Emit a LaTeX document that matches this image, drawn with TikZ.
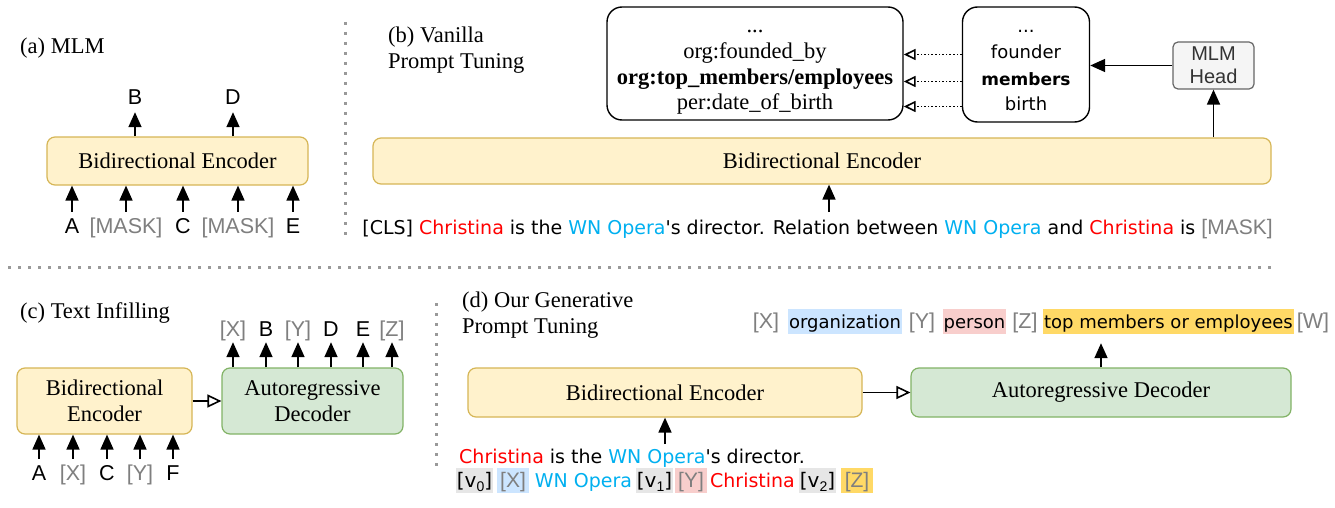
\documentclass[tikz,border=0pt]{standalone}
\usepackage{fontspec}
\setmainfont{Liberation Serif}
\newfontfamily\tokfont{Liberation Sans}
\newfontfamily\comicfont{DejaVu Sans}
\usetikzlibrary{arrows.meta,positioning}

\definecolor{encfill}{HTML}{FFF2CC}
\definecolor{encdraw}{HTML}{D6B656}
\definecolor{decfill}{HTML}{D5E8D4}
\definecolor{decdraw}{HTML}{82B366}
\definecolor{headfill}{HTML}{F5F5F5}
\definecolor{headdraw}{HTML}{666666}
\definecolor{headtext}{HTML}{333333}
\definecolor{tokgray}{HTML}{7F7F7F}
\definecolor{entred}{HTML}{FF0000}
\definecolor{entblue}{HTML}{00B0F0}
\definecolor{hlblue}{HTML}{CCE5FF}
\definecolor{hlred}{HTML}{F8CECC}
\definecolor{hlorange}{HTML}{FFD966}
\definecolor{hlgray}{HTML}{E6E6E6}
\definecolor{sepgray}{HTML}{999999}

\newcommand\vsub[1]{{\tokfont\fontsize{14}{14}\selectfont\raisebox{-4pt}{#1}}}

\tikzset{
  capt/.style={font=\fontsize{22.5}{26}\selectfont, anchor=west, align=left, inner sep=0pt},
  enc/.style={draw=encdraw, fill=encfill, line width=1.2pt, rounded corners=8pt,
    font=\fontsize{22.5}{26}\selectfont, align=center, inner sep=0pt},
  dec/.style={enc, draw=decdraw, fill=decfill},
  headbox/.style={draw=headdraw, fill=headfill, line width=1.2pt, rounded corners=5pt,
    font=\tokfont\fontsize{20}{23}\selectfont, text=headtext, align=center, inner sep=0pt},
  linebox/.style={draw, line width=1.4pt, rounded corners=15pt},
  tok/.style={font=\tokfont\fontsize{21.5}{24}\selectfont, inner sep=0pt, text height=15pt, text depth=0pt},
  comic/.style={font=\comicfont\fontsize{18}{22}\selectfont, inner sep=0pt},
  sent/.style={font=\comicfont\fontsize{19}{22}\selectfont, inner sep=0pt, anchor=base},
  hl/.style={comic, inner xsep=1pt, inner ysep=0pt, text height=19pt, text depth=6pt, anchor=base},
  hltok/.style={hl, font=\tokfont\fontsize{21}{24}\selectfont, text=tokgray},
  arr/.style={-{Triangle[length=15pt,width=13pt]}, line width=1.7pt},
  openarr/.style={-{Triangle[open,length=14pt,width=13pt]}, line width=1.6pt},
  dotarr/.style={-{Triangle[open,length=12pt,width=11pt]}, line width=1.6pt, dotted},
  sep/.style={draw=sepgray, line width=3pt, dash pattern=on 3pt off 7pt},
}

\begin{document}
\begin{tikzpicture}[x=1pt,y=-1pt]
\useasboundingbox[fill=white] (0,0) rectangle (1335,508);

% separators
\draw[sep] (345,22) -- (345,242);
\draw[sep] (8,267) -- (1272,267);
\draw[sep] (436,303) -- (436,470);

% (a) MLM
\node[capt] (alab) at (20,48) {(a) MLM};
\node[enc, minimum width=261pt, minimum height=48pt] (aenc) at (177.5,161) {Bidirectional Encoder};
\foreach \x/\lbl [count=\i] in {135/B, 233/D} {
  \node[tok, anchor=base] (aout\i) at (\x,105) {\lbl};
  \draw[arr, shorten >=7pt] (aenc.north -| aout\i) -- (aout\i.south);
}
\foreach \x/\lbl/\col [count=\i] in {72/A/black, 126/{[MASK]}/tokgray, 183/C/black, 238/{[MASK]}/tokgray, 293/E/black} {
  \node[tok, anchor=base, text=\col] (ain\i) at (\x,233) {\lbl};
  \draw[arr, shorten <=6pt] (ain\i.north) -- (aenc.south -| ain\i);
}

% (b) vanilla prompt tuning
\node[capt] (blab) at (388,50) {(b) Vanilla\\Prompt Tuning};
\node[enc, minimum width=898pt, minimum height=46pt] (benc) at (822,161) {Bidirectional Encoder};
\node[linebox, minimum width=296pt, minimum height=113pt] (rels) at (755,63.5) {};
\foreach \y/\lbl [count=\i] in {33/{...}, 59/{org:founded\_by}, 85/{\bfseries org:top\_members/employees}, 110/{per:date\_of\_birth}}
  \node[font=\fontsize{22.5}{26}\selectfont, anchor=base, inner sep=0pt, text height=14pt, text depth=5pt] (rel\i) at (755,\y) {\lbl};
\node[linebox, minimum width=127pt, minimum height=115pt] (words) at (1026,64.5) {};
\foreach \y/\lbl [count=\i] in {33/{...}, 59/{founder}, 86/{\fontsize{17}{19}\selectfont\bfseries members}, 111/{birth}}
  \node[comic, anchor=base, text height=14pt, text depth=5pt] (wd\i) at (1026,\y) {\lbl};
\foreach \i in {2,3,4}
  \draw[dotarr] (words.west |- wd\i) -- (rels.east |- wd\i);
\node[headbox, minimum width=81pt, minimum height=47pt] (head) at (1213.5,65.5) {MLM\\Head};
\draw[arr] (head.west) -- (words.east |- head.west);
\draw[arr] (benc.north -| head) -- (head.south);
\node[sent] (bsent) at (817.5,234) {[CLS] \textcolor{entred}{Christina} is the \textcolor{entblue}{WN Opera}\textquotesingle s director. Relation between \textcolor{entblue}{WN Opera} and \textcolor{entred}{Christina} is {\tokfont\fontsize{21}{24}\selectfont\color{tokgray}[MASK]}};
\coordinate (bin) at (829,212);
\draw[arr] (bin) -- (bin |- benc.south);

% (c) text infilling
\node[capt] (clab) at (20,313) {(c) Text Infilling};
\node[enc, minimum width=175pt, minimum height=66pt] (cenc) at (104.5,401) {Bidirectional\\Encoder};
\node[dec, minimum width=181pt, minimum height=66pt] (cdec) at (312.5,401) {Autoregressive\\Decoder};
\draw[openarr] (cenc.east) -- (cdec.west);
\foreach \x/\lbl/\col [count=\i] in {233/{[X]}/tokgray, 266/B/black, 298/{[Y]}/tokgray, 331/D/black, 363/E/black, 392/{[Z]}/tokgray} {
  \node[tok, anchor=base, text=\col] (cout\i) at (\x,336) {\lbl};
  \draw[arr, shorten >=6pt] (cdec.north -| cout\i) -- (cout\i.south);
}
\foreach \x/\lbl/\col [count=\i] in {39/A/black, 73/{[X]}/tokgray, 107/C/black, 140/{[Y]}/tokgray, 173/F/black} {
  \node[tok, anchor=base, text=\col] (cin\i) at (\x,480) {\lbl};
  \draw[arr, shorten <=6pt] (cin\i.north) -- (cenc.south -| cin\i);
}

% (d) generative prompt tuning
\node[capt] (dlab) at (462,315.5) {(d) Our Generative\\Prompt Tuning};
\node[enc, minimum width=394pt, minimum height=49pt] (denc) at (665,392.5) {Bidirectional Encoder};
\node[dec, minimum width=380pt, minimum height=49pt] (ddec) at (1101,392.5) {Autoregressive Decoder};
\draw[openarr] (denc.east) -- (ddec.west);
% output sequence
\node[tok, anchor=base, text=tokgray] (dx) at (766,328) {[X]};
\node[hl, fill=hlblue, minimum width=114pt] (dorg) at (845,328) {organization};
\node[tok, anchor=base, text=tokgray] (dy) at (922,328) {[Y]};
\node[hl, fill=hlred, minimum width=61pt] (dper) at (974.5,328) {person};
\node[tok, anchor=base, text=tokgray] (dz) at (1025,328) {[Z]};
\node[hl, fill=hlorange, minimum width=245pt] (drel) at (1168.5,328) {top members or employees};
\node[tok, anchor=base, text=tokgray] (dw) at (1313,328) {[W]};
\draw[arr, shorten >=9pt] (ddec.north) -- (ddec.north |- drel.south);
% input with template
\node[sent] (dsent) at (632,463) {\textcolor{entred}{Christina} is the \textcolor{entblue}{WN Opera}\textquotesingle s director.};
\coordinate (din) at (665,444);
\draw[arr] (din) -- (din |- denc.south);
\node[hl, fill=hlgray, minimum width=35pt, font=\comicfont\fontsize{20}{22}\selectfont] (dv0) at (474.5,487) {[v\vsub{0}]};
\node[hltok, fill=hlblue, minimum width=32pt] (dvx) at (513,487) {[X]};
\node[hl, text=entblue, font=\comicfont\fontsize{19}{22}\selectfont] (dwn) at (583.5,487) {WN Opera};
\node[hl, fill=hlgray, minimum width=33pt, font=\comicfont\fontsize{20}{22}\selectfont] (dv1) at (654.5,487) {[v\vsub{1}]};
\node[hltok, fill=hlred, minimum width=32pt] (dvy) at (691,487) {[Y]};
\node[hl, text=entred, font=\comicfont\fontsize{19}{22}\selectfont] (dchr) at (752.5,487) {Christina};
\node[hl, fill=hlgray, minimum width=35pt, font=\comicfont\fontsize{20}{22}\selectfont] (dv2) at (817.5,487) {[v\vsub{2}]};
\node[hltok, fill=hlorange, minimum width=32pt] (dvz) at (857,487) {[Z]};
\end{tikzpicture}
\end{document}
